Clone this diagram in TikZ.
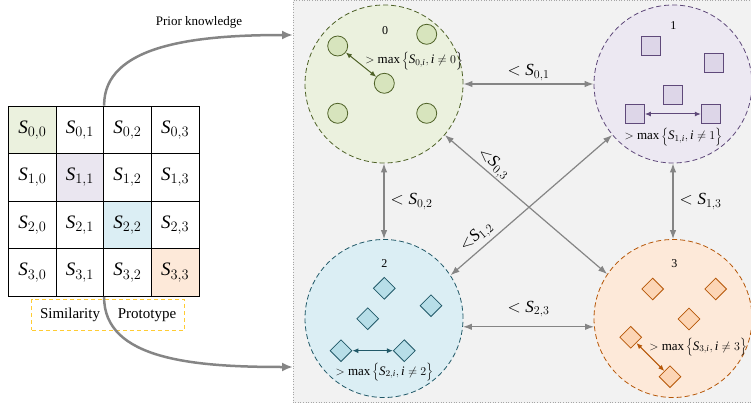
\documentclass[tikz,border=0pt]{standalone}
\usepackage{fontspec}
\setmainfont{Liberation Serif}
\usetikzlibrary{arrows.meta,shapes.geometric}
\newcommand{\Sv}{\mathit{S}}
\newcommand{\iv}{\mathit{i}}
\definecolor{panelbg}{HTML}{F2F2F2}
\definecolor{panelln}{HTML}{A6A6A6}
\definecolor{conngray}{HTML}{858585}
\definecolor{gfill}{HTML}{EBF1DE}
\definecolor{gitem}{HTML}{D7E4BD}
\definecolor{gdark}{HTML}{4F6228}
\definecolor{pfill}{HTML}{ECE8F2}
\definecolor{pitem}{HTML}{DDD6E8}
\definecolor{pdark}{HTML}{5F497A}
\definecolor{bfill}{HTML}{DBEEF4}
\definecolor{bitem}{HTML}{B7DEE8}
\definecolor{bdark}{HTML}{215968}
\definecolor{ofill}{HTML}{FDE9D9}
\definecolor{oitem}{HTML}{FCD5B5}
\definecolor{odark}{HTML}{B65708}
\definecolor{simyellow}{HTML}{FFCC33}
\definecolor{diag0}{HTML}{EBF1DE}
\definecolor{diag1}{HTML}{EAE6F0}
\definecolor{diag2}{HTML}{DBEEF4}
\definecolor{diag3}{HTML}{FDE9D9}
\begin{document}
\begin{tikzpicture}[x=1pt,y=-1pt,
  cellbox/.style={draw=black, line width=0.8pt, minimum width=47.6pt, minimum height=47.6pt, inner sep=0pt, font=\fontsize{19}{20}\selectfont},
  clu/.style={circle, dashed, dash pattern=on 5pt off 3pt, line width=0.8pt, minimum size=158pt, inner sep=0pt},
  ball/.style={circle, draw=gdark, fill=gitem, line width=0.8pt, minimum size=20pt, inner sep=0pt},
  sq/.style={rectangle, draw=pdark, fill=pitem, line width=0.8pt, minimum size=19pt, inner sep=0pt},
  dia/.style={diamond, aspect=1, line width=0.8pt, minimum width=22pt, minimum height=22pt, inner sep=0pt},
  conn/.style={draw=conngray, line width=1.2pt, {Latex[length=9pt,width=6.5pt]}-{Latex[length=9pt,width=6.5pt]}},
  inarr/.style={line width=1pt, {Latex[length=6pt,width=5pt]}-{Latex[length=6pt,width=5pt]}},
  bigcurve/.style={draw=conngray, line width=2.5pt, -{Latex[length=11pt,width=9pt]}},
  lbl/.style={font=\fontsize{17}{18}\selectfont, inner sep=1pt},
  idx/.style={font=\fontsize{12}{13}\selectfont, inner sep=0pt},
  mx/.style={font=\fontsize{13}{14}\selectfont, inner sep=0pt},
  txt/.style={font=\fontsize{15}{16}\selectfont, inner sep=0pt}
]
\useasboundingbox (0,0) rectangle (751,406);
% panel
\fill[panelbg] (293,0.5) rectangle (752,402.5);
\draw[panelln, dotted, line width=0.6pt] (752,0.5) -- (293,0.5) -- (293,402.5) -- (752,402.5);
\coordinate (pkend) at (293,35);
\coordinate (pbend) at (293,367);

% grid
\foreach \i in {0,1,2,3}{
  \foreach \j in {0,1,2,3}{
    \ifnum\i=\j \def\cf{diag\i}\else\def\cf{white}\fi
    \node[cellbox, fill=\cf] (s\i\j) at ({8.5+47.6*(\j+0.5)},{106+47.6*(\i+0.5)}) {$\Sv_{\i,\j}$};
  }
}
% similarity / prototype box
\node[draw=simyellow, dashed, dash pattern=on 4pt off 3pt, line width=0.9pt, minimum width=153pt, minimum height=30.5pt, inner sep=0pt] (spbox) at (108.3,314.7) {};
\node[txt] (simtxt) at (70,315) {Similarity};
\node[txt] (prototxt) at (147,315) {Prototype};

% curves
\node[font=\fontsize{13}{14}\selectfont, inner sep=0pt] (pk) at (199,22) {Prior knowledge};
\draw[bigcurve] (s01.north east) .. controls (103.7,45) and (195,35) .. (pkend);
\draw[bigcurve] (s31.south east) .. controls (103.7,360) and (195,367) .. (pbend);

% clusters
\node[clu, draw=gdark, fill=gfill] (c0) at (384,84) {};
\node[clu, draw=pdark, fill=pfill] (c1) at (673,84) {};
\node[clu, draw=bdark, fill=bfill] (c2) at (384,318.5) {};
\node[clu, draw=odark, fill=ofill] (c3) at (673,318.5) {};

% connectors
\draw[conn] (c0) -- node[lbl, above=2pt] {$<\Sv_{0,1}$} (c1);
\draw[conn] (c0) -- node[lbl, right=5pt] {$<\Sv_{0,2}$} (c2);
\draw[conn] (c1) -- node[lbl, right=5pt] {$<\Sv_{1,3}$} (c3);
\draw[conn] (c2.-6) -- node[lbl, above=8pt] {$<\Sv_{2,3}$} (c3.186);
\draw[conn] (c0.-40) -- node[lbl, sloped, pos=0.26, above=0pt] {${<}\Sv_{0,3}$} (c3.146);
\draw[conn] (c2.33) -- node[lbl, sloped, pos=0.21, above=2pt] {${<}\Sv_{1,2}$} (c1.220);

% cluster 0 items
\node[idx] (n0) at (385,31) {0};
\node[ball] (b1) at (337.7,46) {};
\node[ball] (b2) at (426.7,34.3) {};
\node[ball] (b3) at (384.3,83.3) {};
\node[ball] (b4) at (337.7,113.3) {};
\node[ball] (b5) at (426.7,113.3) {};
\draw[inarr, draw=gdark, fill=gdark] (b1) -- (b3);
\node[mx] (m0) at (414,61) {$>\max\,\Bigl\{\Sv_{0,\iv},\iv\neq0\Bigr\}$};

% cluster 1 items
\node[idx] (n1) at (673.3,26) {1};
\node[sq] (q1) at (651,46) {};
\node[sq] (q2) at (714.3,63.3) {};
\node[sq] (q3) at (673.3,95) {};
\node[sq] (q4) at (635,114) {};
\node[sq] (q5) at (710.7,114) {};
\draw[inarr, draw=pdark, fill=pdark] (q4) -- (q5);
\node[mx] (m1) at (673.3,137) {$>\max\,\Bigl\{\Sv_{1,\iv},\iv\neq1\Bigr\}$};

% cluster 2 items
\node[idx] (n2) at (384.3,263.3) {2};
\node[dia, draw=bdark, fill=bitem] (d1) at (384.3,288.3) {};
\node[dia, draw=bdark, fill=bitem] (d2) at (431,305.7) {};
\node[dia, draw=bdark, fill=bitem] (d3) at (367.7,318.7) {};
\node[dia, draw=bdark, fill=bitem] (d4) at (341,350.7) {};
\node[dia, draw=bdark, fill=bitem] (d5) at (404.3,350.7) {};
\draw[inarr, draw=bdark, fill=bdark] (d4) -- (d5);
\node[mx] (m2) at (384.3,372) {$>\max\,\Bigl\{\Sv_{2,\iv},\iv\neq2\Bigr\}$};

% cluster 3 items
\node[idx] (n3) at (674.3,263.3) {3};
\node[dia, draw=odark, fill=oitem] (e1) at (652.7,289) {};
\node[dia, draw=odark, fill=oitem] (e2) at (715.7,289) {};
\node[dia, draw=odark, fill=oitem] (e3) at (689,319) {};
\node[dia, draw=odark, fill=oitem] (e4) at (630.7,337.3) {};
\node[dia, draw=odark, fill=oitem] (e5) at (670,376.7) {};
\draw[inarr, draw=odark, fill=odark] (e4) -- (e5);
\node[mx] (m3) at (698,347) {$>\max\,\Bigl\{\Sv_{3,\iv},\iv\neq3\Bigr\}$};
\end{tikzpicture}
\end{document}
